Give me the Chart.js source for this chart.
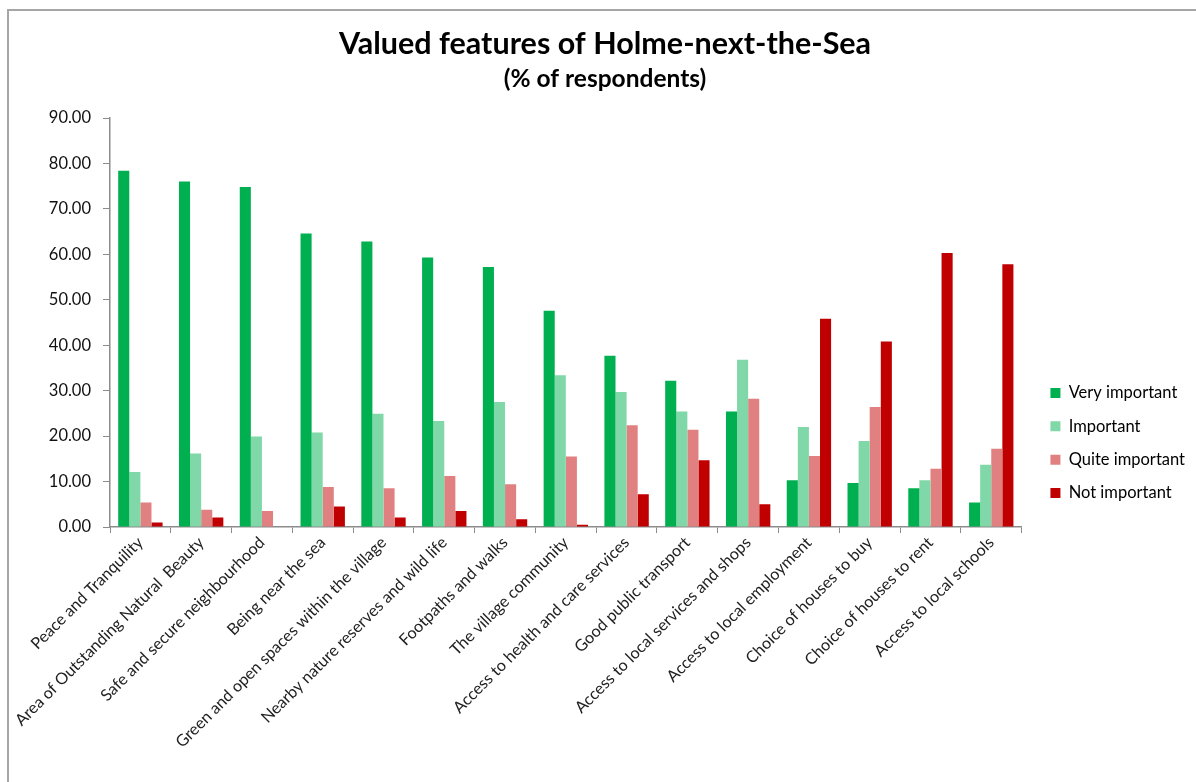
<!DOCTYPE html>
<html>
    <style>
        body {
            margin: 0;
            padding: 0;
            background-color: white;
            font-family: 'Lato', sans-serif;
        }
        .frame {
            position: absolute;
            left: 7px;
            top: 9px;
            width: 1300px;
            height: 900px;
            border-top: 2px solid rgb(166, 166, 166);
            border-left: 2px solid rgb(166, 166, 166);
        }
        .chart_box {
            position: absolute;
            left: 0;
            top: 0;
            width: 1196px;
            height: 782px;
        }
    </style>
    <script src="https://cdn.jsdelivr.net/npm/chart.js"></script>
    <body>
        <div class="frame"></div>
        <div class="chart_box">
            <canvas id="myChart"></canvas>
        </div>
    </body>
    <script>
        const features = [
            'Peace and Tranquility',
            'Area of Outstanding Natural  Beauty',
            'Safe and secure neighbourhood',
            'Being near the sea',
            'Green and open spaces within the village',
            'Nearby nature reserves and wild life',
            'Footpaths and walks',
            'The village community',
            'Access to health and care services',
            'Good public transport',
            'Access to local services and shops',
            'Access to local employment',
            'Choice of houses to buy',
            'Choice of houses to rent',
            'Access to local schools'
        ];

        const very_important = [78.4, 76.0, 74.8, 64.6, 62.8, 59.3, 57.2, 47.6, 37.7, 32.2, 25.4, 10.3, 9.7, 8.5, 5.4];
        const important = [12.1, 16.2, 19.9, 20.8, 24.9, 23.3, 27.5, 33.4, 29.7, 25.4, 36.8, 22.0, 18.9, 10.3, 13.7];
        const quite_important = [5.4, 3.8, 3.5, 8.8, 8.5, 11.2, 9.4, 15.5, 22.4, 21.4, 28.2, 15.6, 26.4, 12.8, 17.2];
        const not_important = [1.0, 2.1, 0.0, 4.5, 2.1, 3.5, 1.7, 0.5, 7.2, 14.7, 5.0, 45.8, 40.8, 60.3, 57.8];

        const y_ticks = [0, 10, 20, 30, 40, 50, 60, 70, 80, 90];

        // move the legend off the plot edge and down a little, like the original
        const legendShift = {
            id: 'legendShift',
            afterLayout(chart) {
                chart.legend.left += 12;
                chart.legend.right += 12;
                chart.legend.top += 52;
                chart.legend.bottom += 52;
            }
        };

        const data = {
            labels: features,
            datasets: [
                { label: 'Very important', data: very_important, backgroundColor: 'rgb(0, 176, 80)' },
                { label: 'Important', data: important, backgroundColor: 'rgb(128, 216, 168)' },
                { label: 'Quite important', data: quite_important, backgroundColor: 'rgb(224, 128, 128)' },
                { label: 'Not important', data: not_important, backgroundColor: 'rgb(192, 0, 0)' }
            ]
        };

        const config = {
            type: 'bar',
            data: data,
            plugins: [legendShift],
            options: {
                responsive: true,
                maintainAspectRatio: false,
                animation: false,
                categoryPercentage: 0.73,
                barPercentage: 1.0,
                layout: {
                    padding: { left: 27, right: 13, top: 0, bottom: 0 }
                },
                plugins: {
                    title: {
                        display: true,
                        text: 'Valued features of Holme-next-the-Sea',
                        color: '#000',
                        font: { family: 'Lato', size: 30.5, weight: 'bold' },
                        padding: { top: 26, bottom: 0 }
                    },
                    subtitle: {
                        display: true,
                        text: '(% of respondents)',
                        color: '#000',
                        font: { family: 'Lato', size: 24.5, weight: 'bold' },
                        padding: { top: 2, bottom: 24 }
                    },
                    legend: {
                        position: 'right',
                        labels: {
                            boxWidth: 10,
                            boxHeight: 10,
                            padding: 16.8,
                            color: '#000',
                            font: { family: 'Lato', size: 16.5 }
                        }
                    },
                    tooltip: { enabled: false }
                },
                scales: {
                    x: {
                        grid: {
                            offset: true,
                            drawOnChartArea: false,
                            tickLength: 6,
                            color: 'rgb(140, 140, 140)'
                        },
                        border: { color: 'rgb(140, 140, 140)', width: 1.5 },
                        ticks: {
                            minRotation: 45,
                            maxRotation: 45,
                            autoSkip: false,
                            padding: 0,
                            color: '#222',
                            font: { family: 'Lato', size: 16.2 }
                        },
                        afterFit: (s) => { s.height = 255; }
                    },
                    y: {
                        min: 0,
                        max: 90,
                        afterBuildTicks: (s) => { s.ticks = y_ticks.map(v => ({ value: v })); },
                        grid: {
                            drawOnChartArea: false,
                            tickLength: 7,
                            color: 'rgb(140, 140, 140)'
                        },
                        border: { color: 'rgb(140, 140, 140)', width: 1.5 },
                        ticks: {
                            padding: 12,
                            color: '#111',
                            font: { family: 'Lato', size: 16.5 },
                            callback: (v) => Number(v).toFixed(2)
                        },
                        afterFit: (s) => { s.width = 83; }
                    }
                }
            }
        };

        const myChart = new Chart(document.getElementById('myChart'), config);
    </script>
</html>
